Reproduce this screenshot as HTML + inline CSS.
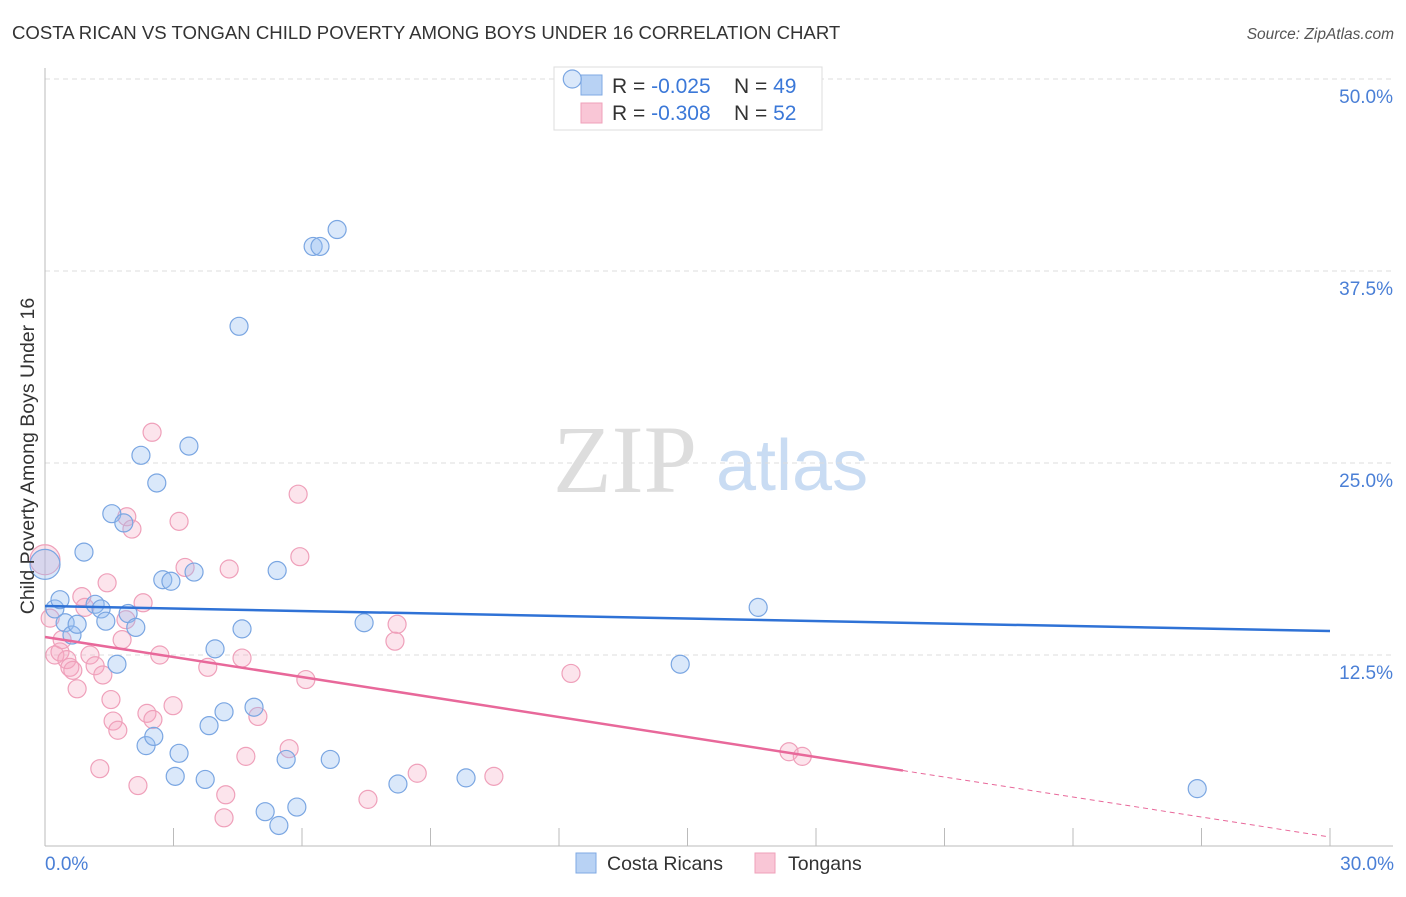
<!DOCTYPE html>
<html><head><meta charset="utf-8"><style>
body{margin:0;background:#fff;font-family:"Liberation Sans",sans-serif}
</style></head><body>
<svg id="c" width="1406" height="892" xmlns="http://www.w3.org/2000/svg" font-family="Liberation Sans, sans-serif">
<text x="12" y="39" font-size="18.6" fill="#333">COSTA RICAN VS TONGAN CHILD POVERTY AMONG BOYS UNDER 16 CORRELATION CHART</text>
<text x="1394" y="39" font-size="15.5" fill="#555" font-style="italic" text-anchor="end">Source: ZipAtlas.com</text>
<text x="553" y="492" font-size="96" fill="#ddd" font-family="Liberation Serif, serif">ZIP</text>
<text x="716" y="490" font-size="72" fill="#c9dcf3">atlas</text>
<g id="grid"></g>
<g id="axes"></g>
<g>
<rect x="554" y="67" width="268" height="63" fill="#fff" stroke="#ddd"/>
<rect x="581" y="75" width="21" height="20" fill="#b8d2f4" stroke="#7fa9e3"/>
<rect x="581" y="103" width="21" height="20" fill="#f9c6d6" stroke="#efa0ba"/>
<text x="612" y="93" font-size="21" fill="#333">R = <tspan fill="#3b78d8">-0.025</tspan><tspan x="734">N = </tspan><tspan fill="#3b78d8">49</tspan></text>
<text x="612" y="120" font-size="21" fill="#333">R = <tspan fill="#3b78d8">-0.308</tspan><tspan x="734">N = </tspan><tspan fill="#3b78d8">52</tspan></text>
</g>
<g id="marks"></g>
<text transform="translate(34,456) rotate(-90)" font-size="19.5" fill="#333" text-anchor="middle">Child Poverty Among Boys Under 16</text>
<text x="45" y="870" font-size="19" fill="#4a7fd6">0.0%</text>
<text x="1394" y="870" font-size="19" fill="#4a7fd6" text-anchor="end">30.0%</text>
<g>
<rect x="576" y="853" width="20" height="20" fill="#b8d2f4" stroke="#7fa9e3"/>
<text x="607" y="870" font-size="19.5" fill="#333">Costa Ricans</text></g>
<g>
<rect x="755" y="853" width="20" height="20" fill="#f9c6d6" stroke="#efa0ba"/>
<text x="788" y="870" font-size="19.5" fill="#333">Tongans</text></g>
</svg>
<script>
const yTicks=[12.5,25,37.5,50];
const yTickLabels=["12.5%","25.0%","37.5%","50.0%"];
const xTicks=[3,6,9,12,15,18,21,24,27,30];
const blueX=[0,0.23,0.35,0.47,0.63,0.75,0.91,1.17,1.31,1.42,1.56,1.68,1.84,1.94,2.12,2.24,2.36,2.54,2.61,2.75,2.94,3.04,3.13,3.36,3.48,3.74,3.83,3.97,4.18,4.53,4.60,4.88,5.14,5.42,5.46,5.63,5.88,6.26,6.42,6.66,6.82,7.45,8.24,9.83,12.31,14.83,16.65,26.90];
const blueY=[18.4,15.5,16.1,14.6,13.8,14.5,19.2,15.8,15.5,14.7,21.7,11.9,21.1,15.2,14.3,25.5,6.6,7.2,23.7,17.4,17.3,4.6,6.1,26.1,17.9,4.4,7.9,12.9,8.8,33.9,14.2,9.1,2.3,18.0,1.4,5.7,2.6,39.1,39.1,5.7,40.2,14.6,4.1,4.5,50.0,11.9,15.6,3.8];
const pinkX=[0,0.12,0.23,0.35,0.40,0.51,0.58,0.65,0.75,0.86,0.93,1.05,1.17,1.28,1.35,1.45,1.54,1.59,1.70,1.80,1.89,1.91,2.03,2.17,2.29,2.38,2.50,2.52,2.68,2.99,3.13,3.27,3.80,4.22,4.18,4.30,4.60,4.69,4.97,5.70,5.91,5.95,6.09,7.54,8.22,8.17,8.69,10.48,12.28,17.37,17.68];
const pinkY=[18.7,14.9,12.5,12.7,13.5,12.2,11.7,11.5,10.3,16.3,15.6,12.5,11.8,5.1,11.2,17.2,9.6,8.2,7.6,13.5,14.8,21.5,20.7,4.0,15.9,8.7,27.0,8.3,12.5,9.2,21.2,18.2,11.7,3.4,1.9,18.1,12.3,5.9,8.5,6.4,22.97,18.9,10.9,3.1,14.5,13.4,4.8,4.6,11.3,6.2,5.9];
const blueLine=[15.69,14.06];
const pinkLine=[13.67,0.65];
const pinkSolidEnd=20.03;
const X=v=>45+v/30*1285, Y=v=>847-v/12.5*192;
const NS="http://www.w3.org/2000/svg";
function mk(p,t,a){const e=document.createElementNS(NS,t);for(const k in a)e.setAttribute(k,a[k]);document.getElementById(p).appendChild(e);return e;}
yTicks.forEach((t,i)=>{
 const l=mk('grid','line',{x1:45,x2:1393,y1:Y(t),y2:Y(t),stroke:'#ddd','stroke-dasharray':'5,4'});
 
 
 const tx=mk('grid','text',{x:1393,y:Y(t)+24,'font-size':19,fill:'#4a7fd6','text-anchor':'end'});tx.textContent=yTickLabels[i];
 
 
});
const ax=mk('axes','line',{x1:45,x2:45,y1:68,y2:846,stroke:'#bbb'});


const bx=mk('axes','line',{x1:45,x2:1393,y1:846,y2:846,stroke:'#bbb'});


xTicks.forEach(t=>{const l=mk('axes','line',{x1:X(t),x2:X(t),y1:828,y2:846,stroke:'#bbb'});
 
 });
function pts(xs,ys,fill,stroke,name){xs.forEach((x,i)=>{const c=mk('marks','circle',{cx:X(x),cy:Y(ys[i]),r:i==0?15:9,fill:fill,stroke:stroke,'stroke-width':1.2});
 
 });}
pts(pinkX,pinkY,'rgba(245,165,192,0.3)','#efa0ba','tongan-point');
pts(blueX,blueY,'rgba(150,190,240,0.35)','#7aa6e2','costa-rican-point');
const bl=mk('marks','line',{x1:X(0),y1:Y(blueLine[0]),x2:X(30),y2:Y(blueLine[1]),stroke:'#2f72d6','stroke-width':2.5});


const pe=pinkLine[0]+(pinkLine[1]-pinkLine[0])*pinkSolidEnd/30;
const pl=mk('marks','line',{x1:X(0),y1:Y(pinkLine[0]),x2:X(pinkSolidEnd),y2:Y(pe),stroke:'#e8689a','stroke-width':2.5});


const pd=mk('marks','line',{x1:X(pinkSolidEnd),y1:Y(pe),x2:X(30),y2:Y(pinkLine[1]),stroke:'#e8689a','stroke-width':1,'stroke-dasharray':'5,4'});


</script>
</body></html>
